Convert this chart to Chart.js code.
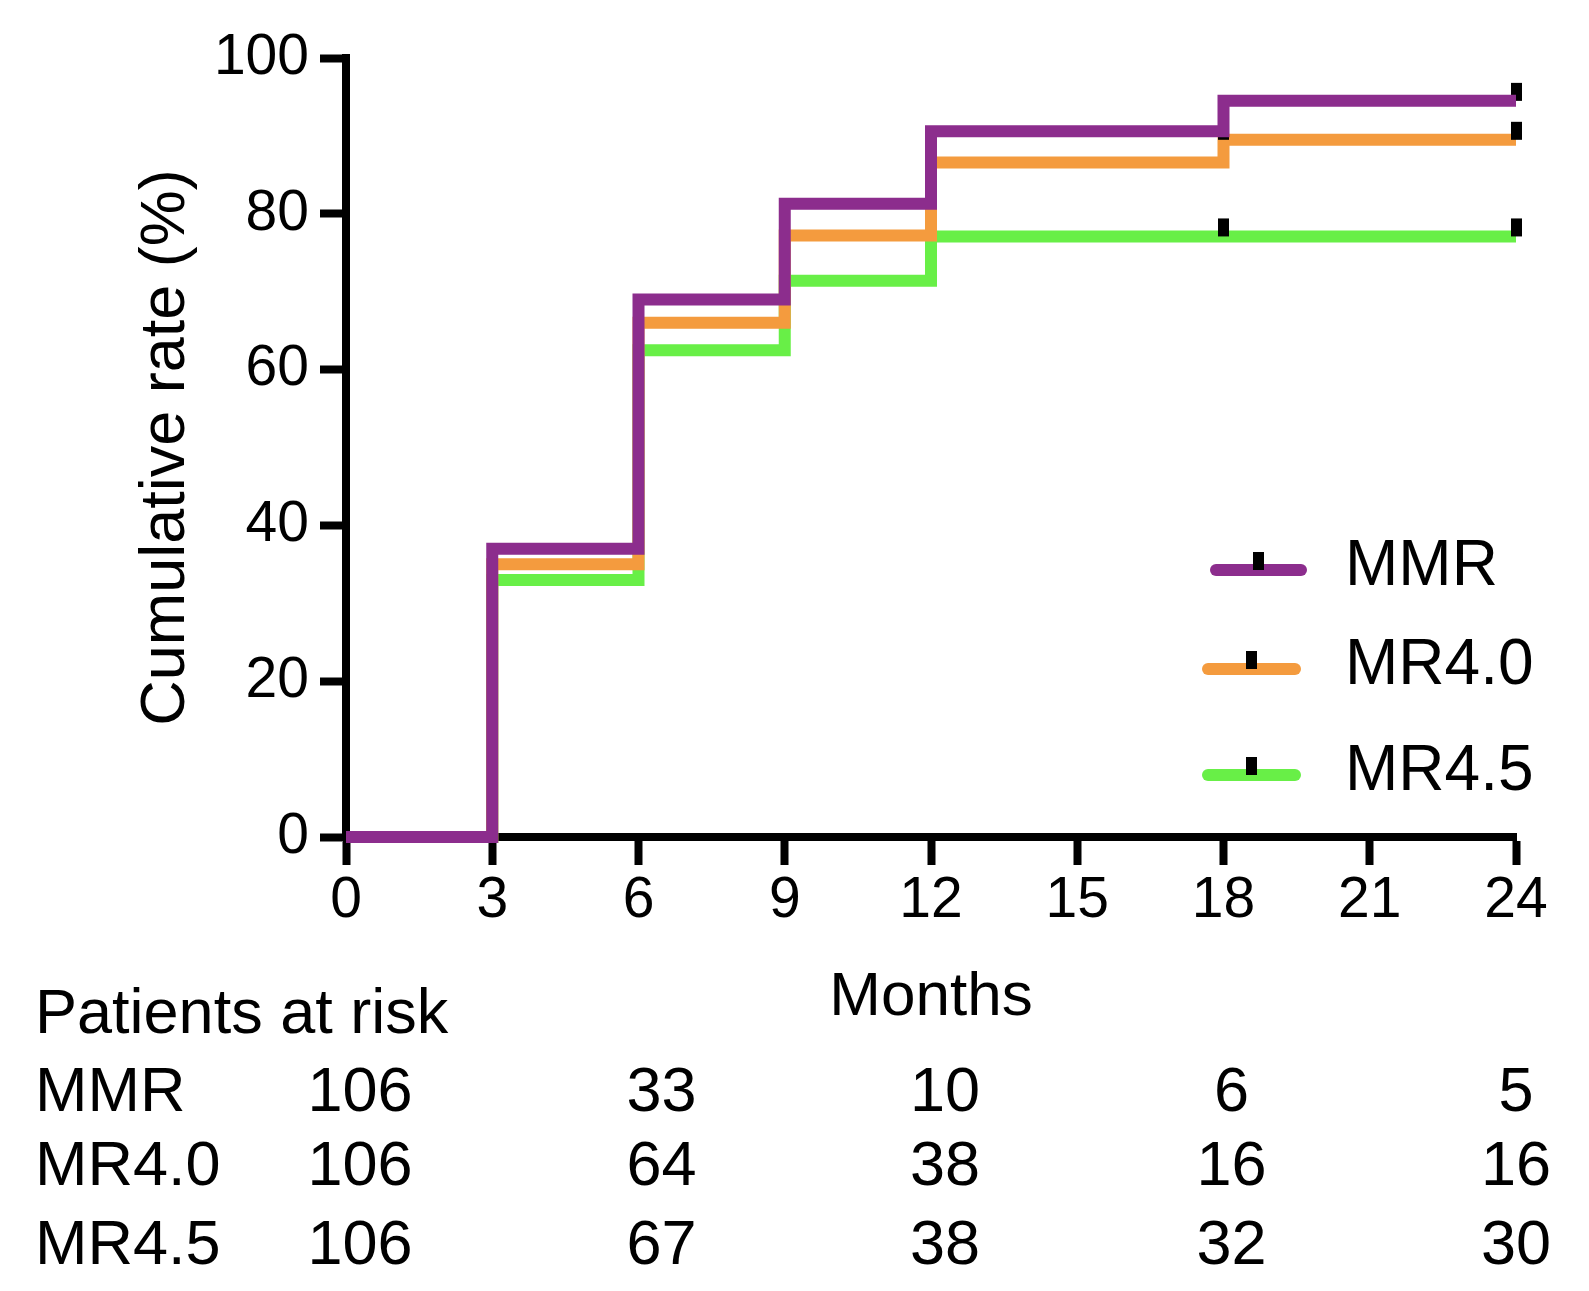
<!DOCTYPE html>
<html>
<head>
<meta charset="utf-8">
<script src="https://cdn.jsdelivr.net/npm/chart.js@4.4.0/dist/chart.umd.min.js"></script>
<style>
  html, body { margin: 0; padding: 0; background: #fff; overflow: hidden; }
  #wrap { width: 1589px; height: 1291px; position: relative; }
  #km { display: block; }
</style>
</head>
<body>
<div id="wrap"><canvas id="km"></canvas></div>
<script>
// step points of the cumulative curves (value changes at each month listed)
const months = [0, 3, 6, 9, 12, 18, 24];
const mmrRate = [0, 37, 69, 81.3, 90.6, 94.5, 94.5];
const mr40Rate = [0, 35, 66, 77.2, 86.6, 89.5, 89.5];
const mr45Rate = [0, 33, 62.5, 71.4, 77.1, 77.1, 77.1];

// censored times
const mmrCensored = [24];
const mr40Censored = [18, 24];
const mr45Censored = [18, 24];

const groups = ['MMR', 'MR4.0', 'MR4.5'];
const xTicks = [0, 3, 6, 9, 12, 15, 18, 21, 24];
const yTicks = [0, 20, 40, 60, 80, 100];

// patients at risk table
const riskMonths = [0, 6, 12, 18, 24];
const mmrRisk = [106, 33, 10, 6, 5];
const mr40Risk = [106, 64, 38, 16, 16];
const mr45Risk = [106, 67, 38, 32, 30];

const colors = ['#8C2D8D', '#F49B3E', '#68EF47'];
const FONT = '"Liberation Sans", Arial, Helvetica, sans-serif';
Chart.defaults.font.family = FONT;
Chart.defaults.color = '#000';

// little black censor tick, sits on top of the line
const censorMark = (function () {
  const c = document.createElement('canvas');
  c.width = 11; c.height = 40;
  const g = c.getContext('2d');
  g.fillStyle = '#000';
  g.fillRect(0, 2, 11, 18);
  return c;
})();

function rateAt(t, rates) {
  let v = rates[0];
  for (let i = 0; i < months.length; i++) if (months[i] <= t) v = rates[i];
  return v;
}
const pts = (rates) => months.map((m, i) => ({ x: m, y: rates[i] }));
const cens = (times, rates) => times.map(t => ({ x: t, y: rateAt(t, rates) }));

function curve(label, rates, color, order) {
  return {
    label, data: pts(rates), borderColor: color, backgroundColor: color,
    borderWidth: 12, stepped: true, pointRadius: 0, fill: false,
    borderCapStyle: 'butt', borderJoinStyle: 'miter', clip: false, order
  };
}
function marks(label, times, rates, order) {
  return {
    label, data: cens(times, rates), showLine: false, pointStyle: censorMark,
    pointRadius: 10, clip: false, order
  };
}

const riskTable = {
  id: 'riskTable',
  afterDraw(chart) {
    const ctx = chart.ctx, x = chart.scales.x;
    const shift = [14, 23, 14, 8, 0];
    const rows = [mmrRisk, mr40Risk, mr45Risk];
    const baselines = [1111, 1185, 1264];
    ctx.save();
    ctx.fillStyle = '#000';
    ctx.font = '63px ' + FONT;
    ctx.textBaseline = 'alphabetic';
    ctx.textAlign = 'left';
    ctx.fillText('Patients at risk', 35, 1033);
    rows.forEach((row, r) => {
      ctx.textAlign = 'left';
      ctx.fillText(groups[r], 35, baselines[r]);
      ctx.textAlign = 'center';
      row.forEach((n, i) => {
        ctx.fillText(String(n), x.getPixelForValue(riskMonths[i]) + shift[i], baselines[r]);
      });
    });
    ctx.restore();
  }
};

const kmLegend = {
  id: 'kmLegend',
  afterDraw(chart) {
    const ctx = chart.ctx;
    const rowsY = [570, 669, 775];
    const lineX = [[1216, 1301], [1208, 1295], [1208, 1295]];
    ctx.save();
    groups.forEach((g, i) => {
      const y = rowsY[i];
      ctx.strokeStyle = colors[i];
      ctx.lineWidth = 12;
      ctx.lineCap = 'round';
      ctx.beginPath();
      ctx.moveTo(lineX[i][0], y);
      ctx.lineTo(lineX[i][1], y);
      ctx.stroke();
      const mx = (lineX[i][0] + lineX[i][1]) / 2;
      ctx.drawImage(censorMark, mx - censorMark.width / 2, y - 20);
      ctx.fillStyle = '#000';
      ctx.font = '64px ' + FONT;
      ctx.textAlign = 'left';
      ctx.textBaseline = 'middle';
      ctx.fillText(g, 1345, y - 3);
    });
    ctx.restore();
  }
};

new Chart(document.getElementById('km'), {
  type: 'line',
  data: {
    datasets: [
      curve(groups[0], mmrRate, colors[0], 0),
      marks('MMR censored', mmrCensored, mmrRate, 1),
      marks('MR4.0 censored', mr40Censored, mr40Rate, 1),
      marks('MR4.5 censored', mr45Censored, mr45Rate, 1),
      curve(groups[1], mr40Rate, colors[1], 2),
      curve(groups[2], mr45Rate, colors[2], 3)
    ]
  },
  options: {
    responsive: true,
    maintainAspectRatio: false,
    animation: false,
    layout: { padding: { left: 125, right: 73, top: 58, bottom: 252 } },
    plugins: { legend: { display: false }, tooltip: { enabled: false } },
    scales: {
      x: {
        type: 'linear', min: 0, max: 24,
        afterBuildTicks: s => { s.ticks = xTicks.map(v => ({ value: v })); },
        afterFit: s => { s.height = 202; s.paddingLeft = 0; s.paddingRight = 0; },
        grid: { display: true, drawOnChartArea: false, drawTicks: true, tickLength: 28, tickWidth: 8, tickColor: '#000' },
        border: { display: true, width: 8, color: '#000' },
        ticks: { font: { size: 57 }, color: '#000', padding: 2, maxRotation: 0 },
        title: { display: true, text: 'Months', font: { size: 62 }, color: '#000' }
      },
      y: {
        type: 'linear', min: 0, max: 100,
        afterBuildTicks: s => { s.ticks = yTicks.map(v => ({ value: v })); },
        afterFit: s => { s.width = 221; s.paddingTop = 0; s.paddingBottom = 0; },
        grid: { display: true, drawOnChartArea: false, drawTicks: true, tickLength: 26, tickWidth: 8, tickColor: '#000' },
        border: { display: true, width: 8, color: '#000' },
        ticks: { font: { size: 57 }, color: '#000', padding: 11 },
        title: { display: true, text: 'Cumulative rate (%)', font: { size: 63 }, color: '#000' }
      }
    }
  },
  plugins: [riskTable, kmLegend]
});
</script>
</body>
</html>
